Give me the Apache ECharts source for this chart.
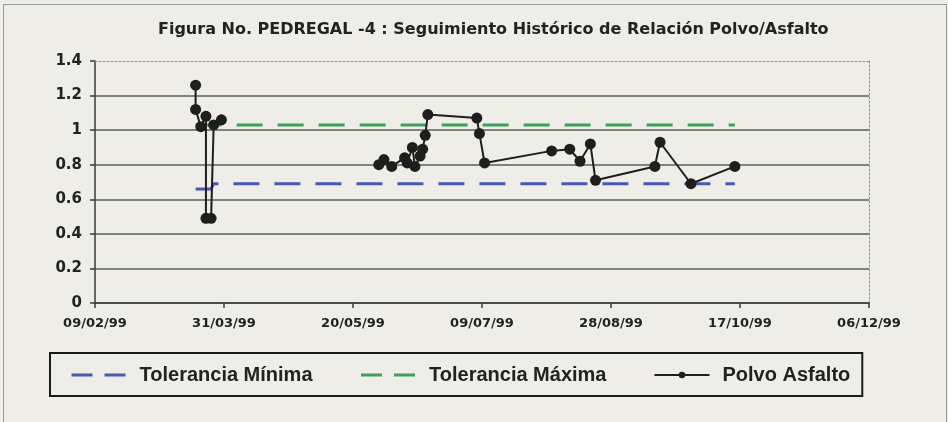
<!DOCTYPE html>
<html>
<head>
<meta charset="utf-8">
<script src="https://cdn.jsdelivr.net/npm/echarts@6/dist/echarts.min.js"></script>
<style>
  html, body { margin: 0; padding: 0; background: #eeede8; }
  #frame { position: absolute; left: 3px; top: 4px; width: 942px; height: 420px; border: 1px solid #9a9a96; border-bottom: none; }
  #chart { width: 948px; height: 422px; }
</style>
</head>
<body>
<div id="frame"></div>
<div id="chart"></div>
<script>
// fechas de muestreo (dd/mm/aa) y relación polvo/asfalto
const fechas = [
  "20/03/99", "20/03/99", "22/03/99", "24/03/99", "24/03/99", "26/03/99", "27/03/99", "30/03/99",
  "30/05/99", "01/06/99", "04/06/99", "09/06/99", "10/06/99", "12/06/99", "13/06/99", "15/06/99",
  "16/06/99", "17/06/99", "18/06/99", "07/07/99", "08/07/99", "10/07/99",
  "05/08/99", "12/08/99", "16/08/99", "20/08/99", "22/08/99",
  "14/09/99", "16/09/99", "28/09/99", "15/10/99"
];
const polvoAsfalto = [
  1.26, 1.12, 1.02, 1.08, 0.49, 0.49, 1.03, 1.06,
  0.80, 0.83, 0.79, 0.84, 0.81, 0.90, 0.79, 0.85,
  0.89, 0.97, 1.09, 1.07, 0.98, 0.81,
  0.88, 0.89, 0.82, 0.92, 0.71,
  0.79, 0.93, 0.69, 0.79
];
const toleranciaMinima = [
  0.66, 0.66, 0.66, 0.66, 0.66, 0.66, 0.69, 0.69,
  0.69, 0.69, 0.69, 0.69, 0.69, 0.69, 0.69, 0.69,
  0.69, 0.69, 0.69, 0.69, 0.69, 0.69,
  0.69, 0.69, 0.69, 0.69, 0.69,
  0.69, 0.69, 0.69, 0.69
];
const toleranciaMaxima = [
  1.03, 1.03, 1.03, 1.03, 1.03, 1.03, 1.03, 1.03,
  1.03, 1.03, 1.03, 1.03, 1.03, 1.03, 1.03, 1.03,
  1.03, 1.03, 1.03, 1.03, 1.03, 1.03,
  1.03, 1.03, 1.03, 1.03, 1.03,
  1.03, 1.03, 1.03, 1.03
];
// la serie de polvo/asfalto no se une entre estas posiciones (hueco sin datos)
const cortes = [8];
// eje X: días desde 09/02/99, marcas cada 50 días
const fechaInicio = "09/02/99";
const xMin = 0, xMax = 300, xPaso = 50;

const DIA = 86400000;
function aFecha(s) {
  const p = s.split("/");
  return Date.UTC(1900 + Number(p[2]), Number(p[1]) - 1, Number(p[0]));
}
const t0 = aFecha(fechaInicio);
function aDias(s) { return Math.round((aFecha(s) - t0) / DIA); }
function etiqueta(d) {
  const f = new Date(t0 + d * DIA);
  const dd = String(f.getUTCDate()).padStart(2, "0");
  const mm = String(f.getUTCMonth() + 1).padStart(2, "0");
  return dd + "/" + mm + "/" + String(f.getUTCFullYear()).slice(2);
}
function pares(arr, conCortes) {
  const out = [];
  fechas.forEach((f, i) => {
    if (conCortes && cortes.indexOf(i) >= 0) out.push([aDias(f), null]);
    out.push([aDias(f), arr[i]]);
  });
  return out;
}

const fuente = "'Liberation Sans', Arial, sans-serif";
const fuenteEjes = "'DejaVu Sans', sans-serif";
const azul = "#4a58b2";
const verde = "#3f9f5c";
const negro = "#1e1e1e";

const myChart = echarts.init(document.getElementById("chart"));
const option = {
  backgroundColor: "transparent",
  animation: false,
  title: {
    text: "Figura No. PEDREGAL -4 : Seguimiento Histórico de Relación Polvo/Asfalto",
    left: 158,
    top: 22,
    padding: 0,
    textStyle: { fontFamily: fuenteEjes, fontWeight: "bold", fontSize: 16, color: "#222" }
  },
  grid: { left: 95, right: 79, top: 61, bottom: 119 },
  legend: {
    left: 50,
    top: 353,
    padding: [12, 12, 11, 20],
    itemWidth: 55,
    itemHeight: 8,
    itemGap: 47,
    borderColor: "#1a1a1a",
    borderWidth: 2,
    textStyle: { fontFamily: fuente, fontWeight: "bold", fontSize: 20, color: "#222", padding: [0, 0, 0, 8] },
    data: [
      { name: "Tolerancia Mínima", itemStyle: { opacity: 0 }, lineStyle: { type: [21, 12], width: 3 } },
      { name: "Tolerancia Máxima", itemStyle: { opacity: 0 }, lineStyle: { type: [21, 12], width: 3 } },
      { name: "Polvo Asfalto", lineStyle: { width: 2 } }
    ]
  },
  xAxis: [
    {
      type: "value",
      min: xMin,
      max: xMax,
      interval: xPaso,
      axisLine: { lineStyle: { color: "#3a3a3a", width: 1.5 } },
      axisTick: { inside: false, length: 5, lineStyle: { color: "#3a3a3a", width: 1.5 } },
      axisLabel: {
        formatter: etiqueta,
        margin: 14,
        fontFamily: fuenteEjes,
        fontWeight: "bold",
        fontSize: 13,
        color: "#222"
      },
      splitLine: { show: false }
    },
    {
      type: "value",
      position: "top",
      min: xMin,
      max: xMax,
      axisLine: { show: true, onZero: false, lineStyle: { color: "#8e8e8a", type: [2, 2], width: 1 } },
      axisTick: { show: false },
      axisLabel: { show: false },
      splitLine: { show: false }
    }
  ],
  yAxis: [
    {
      type: "value",
      min: 0,
      max: 1.4,
      interval: 0.2,
      axisLine: { show: true, lineStyle: { color: "#3a3a3a", width: 1.5 } },
      axisTick: { show: true, length: 5, lineStyle: { color: "#3a3a3a", width: 1.5 } },
      axisLabel: {
        margin: 13,
        fontFamily: fuenteEjes,
        fontWeight: "bold",
        fontSize: 15,
        color: "#222"
      },
      splitLine: {
        show: true,
        lineStyle: {
          width: 1.5,
          color: ["#5e5e5a", "#5e5e5a", "#5e5e5a", "#5e5e5a", "#5e5e5a", "#5e5e5a", "#5e5e5a", "rgba(0,0,0,0)"]
        }
      }
    },
    {
      type: "value",
      position: "right",
      min: 0,
      max: 1.4,
      axisLine: { show: true, onZero: false, lineStyle: { color: "#8e8e8a", type: [2, 2], width: 1 } },
      axisTick: { show: false },
      axisLabel: { show: false },
      splitLine: { show: false }
    }
  ],
  series: [
    {
      name: "Tolerancia Mínima",
      type: "line",
      data: pares(toleranciaMinima, false),
      symbol: "none",
      color: azul,
      lineStyle: { color: azul, width: 3, type: [26, 15] }
    },
    {
      name: "Tolerancia Máxima",
      type: "line",
      data: pares(toleranciaMaxima, false),
      symbol: "none",
      color: verde,
      lineStyle: { color: verde, width: 3, type: [26, 15] }
    },
    {
      name: "Polvo Asfalto",
      type: "line",
      data: pares(polvoAsfalto, true),
      connectNulls: false,
      symbol: "circle",
      symbolSize: 11,
      color: negro,
      itemStyle: { color: negro },
      lineStyle: { color: negro, width: 2 }
    }
  ]
};
myChart.setOption(option, true);
window.addEventListener("resize", () => {
  myChart.resize();
});
</script>
</body>
</html>
